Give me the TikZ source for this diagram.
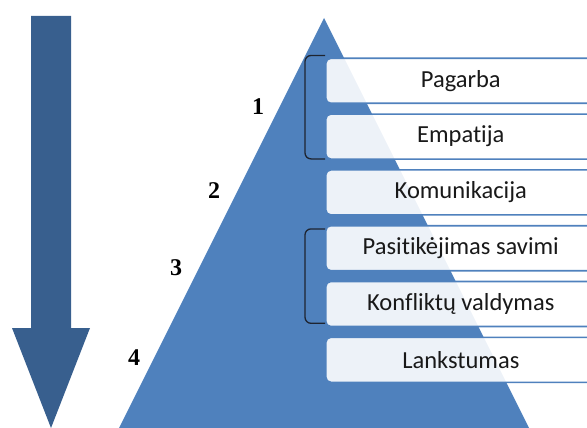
\documentclass[tikz,border=0pt]{standalone}
\usepackage{fontspec}
\setmainfont[Ligatures={NoCommon}]{Carlito}
\newfontfamily\numfont{Liberation Serif}
\definecolor{triblue}{RGB}{79,129,189}
\definecolor{arrowblue}{RGB}{56,95,142}
\definecolor{bracketcol}{RGB}{30,36,48}
\tikzset{
  levelbox/.style={draw=triblue, line width=1.6pt, rounded corners=5pt, fill=white, fill opacity=0.9, text opacity=1,
    minimum width=270pt, minimum height=45pt, anchor=north west, inner sep=0pt,
    font=\fontsize{24.5}{26}\selectfont, text=black!90},
  levelnum/.style={font=\numfont\bfseries\fontsize{24}{24}\selectfont, text=black},
  bracket/.style={draw=bracketcol, line width=1.3pt, rounded corners=6pt}
}
\begin{document}
\begin{tikzpicture}[x=1pt,y=-1pt]
\useasboundingbox (0,0) rectangle (587,428);
% big arrow
\fill[arrowblue] (31,16) -- (71,16) -- (71,328) -- (90,328) -- (51,428) -- (12,328) -- (31,328) -- cycle;
% pyramid
\fill[triblue] (119,428) -- (324,18) -- (529,428) -- cycle;
% boxes
\node[levelbox] (b1) at (325,57.5) {Pagarba};
\node[levelbox] (b2) at (325,113.3) {Empatija};
\node[levelbox] (b3) at (325,169.1) {Komunikacija};
\node[levelbox] (b4) at (325,224.9) {Pasitikėjimas savimi};
\node[levelbox] (b5) at (325,280.7) {Konfliktų valdymas};
\node[levelbox] (b6) at (325,336.5) {Lankstumas};
% brackets
\draw[bracket] ([yshift=2pt]b1.north west) -- ++(-20,0) |- ([yshift=1pt]b2.south west);
\draw[bracket] ([yshift=-4pt]b4.north west) -- ++(-20,0) |- ([yshift=4pt]b5.south west);
% numbers
\node[levelnum] (n1) at (258,107) {1};
\node[levelnum] (n2) at (214,191) {2};
\node[levelnum] (n3) at (176,268) {3};
\node[levelnum] (n4) at (134,358) {4};
\end{tikzpicture}
\end{document}
